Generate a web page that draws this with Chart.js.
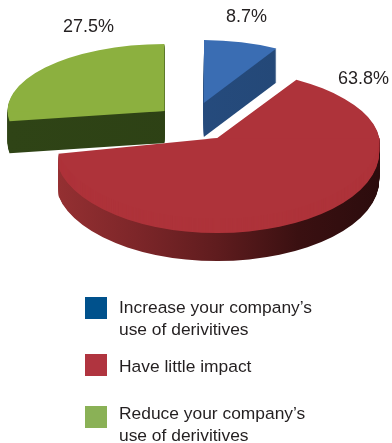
<!DOCTYPE html>
<html>
<head>
<meta charset="utf-8">
<script src="https://cdn.jsdelivr.net/npm/chart.js@4"></script>
<style>
  html, body { margin: 0; padding: 0; background: #fff; }
  #wrap { position: relative; width: 392px; height: 443px; overflow: hidden; }
  canvas { position: absolute; left: 0; top: 0; }
  .key { position: absolute; left: 85px; width: 22px; height: 22px; }
  .key-text {
    position: absolute; left: 119px; white-space: nowrap;
    font: 17.4px/22px "Liberation Sans", sans-serif; color: #231f20;
  }
</style>
</head>
<body>
<div id="wrap"><canvas id="chart-pie" width="392" height="443"></canvas></div>
<script>
const categories = ["Increase your company’s use of derivitives", "Have little impact", "Reduce your company’s use of derivitives"];
const legendLines = [["Increase your company’s", "use of derivitives"], ["Have little impact"], ["Reduce your company’s", "use of derivitives"]];
const shares = [8.7, 63.8, 27.5];
const shareLabels = ["8.7%", "63.8%", "27.5%"];

const faceColors = ["#3a6db3", "#ae333a", "#8cb03f"];
const legendColors = ["#00518c", "#b0343f", "#8ab156"];
const wallColors = [
    ["#274f86", "#234673"],
    ["#953032", "#7d2629", "#5f1c1e", "#3a1011", "#2c0c0d"],
    ["#2f4416", "#2c3f14"],
];

// pie geometry, in pixels
const OFFSET = 40;
const BASE_RADIUS = 122;
const CENTER = { x: 195, y: 122 };
const TILT = 0.48;
const depths = [34, 28, 32];
const faceRadii = [
    { x: 150, up: 63, down: 63, band: 0, lean: 0.048, nudgeX: -2, nudgeY: -1 },
    { x: 162, up: 70, down: 81, band: 14, lean: 0.18, nudgeX: 0, nudgeY: 0 },
    { x: 157, up: 67, down: 66, band: 0, lean: 0, nudgeX: 0, nudgeY: 1 },
];
const drawOrder = [1, 0, 2];
const labelSpots = [[226, 22], [338, 84], [63, 32]];
const legendTops = [297, 354, 406];
const legendTextTops = [296, 355, 402];

// same radius growth Chart.js applies to an offset arc
function drawnRadius(arc) {
    const fix = 1 - Math.sin(Math.min(Math.PI, arc.circumference));
    return arc.outerRadius + (OFFSET * fix);
}

function paintSlice(ctx, chart, arc, i, el, dy) {
    const mid = (arc.startAngle + arc.endAngle) / 2;
    const size = faceRadii[i];
    const off = { x: arc.x + Math.cos(mid) * OFFSET, y: arc.y + Math.sin(mid) * OFFSET };
    const sx = CENTER.x + Math.cos(mid) * OFFSET + size.nudgeX;
    const sy = Math.round(CENTER.y + Math.sin(mid) * OFFSET * TILT) + size.nudgeY + dy;
    const r = drawnRadius(arc);

    const half = (ry, lean, top, bottom, shift) => {
        ctx.save();
        ctx.beginPath();
        ctx.rect(0, top, chart.width, bottom - top);
        ctx.clip();
        ctx.translate(sx, sy + shift);
        ctx.transform(1, 0, lean, 1, 0, 0);
        ctx.scale(size.x / r, ry / r);
        ctx.translate(-off.x, -off.y);
        el.draw(ctx);
        ctx.restore();
    };

    // the near half of the disc is stretched more than the far half,
    // and the band keeps its sides upright where the two halves meet
    for (let b = size.band; b >= 0; b--) {
        half(size.down, 0, sy, chart.height, b);
    }
    half(size.up, size.lean, 0, sy + 0.5, 0);
}

const pie3d = {
    id: "pie3d",
    beforeDatasetDraw() {
        return false;
    },
    afterDatasetsDraw(chart) {
        const ctx = chart.ctx;
        const arcs = chart.getDatasetMeta(0).data;
        drawOrder.forEach((i) => {
            const arc = arcs[i];
            const r = drawnRadius(arc);
            const grad = ctx.createLinearGradient(arc.x - r, 0, arc.x + r, 0);
            wallColors[i].forEach((c, n) => grad.addColorStop(n / (wallColors[i].length - 1), c));
            const wall = Object.create(arc);
            wall.options = Object.assign({}, arc.options, { backgroundColor: grad });
            for (let d = depths[i]; d > 0; d--) {
                paintSlice(ctx, chart, arc, i, wall, d);
            }
            paintSlice(ctx, chart, arc, i, arc, 0);
        });

        ctx.fillStyle = "#231f20";
        ctx.font = '18px "Liberation Sans", sans-serif';
        shareLabels.forEach((t, i) => ctx.fillText(t, labelSpots[i][0], labelSpots[i][1]));
    },
};

new Chart(document.getElementById("chart-pie"), {
    type: "pie",
    data: {
        labels: categories,
        datasets: [{
            data: shares,
            backgroundColor: faceColors,
            borderWidth: 0,
            offset: OFFSET * 4,
            hoverOffset: OFFSET * 4,
            radius: BASE_RADIUS,
        }],
    },
    options: {
        responsive: false,
        animation: false,
        layout: { padding: { right: 2, bottom: 199 } },
        plugins: { legend: { display: false }, tooltip: { enabled: false } },
    },
    plugins: [pie3d],
});

const wrap = document.getElementById("wrap");
legendLines.forEach((lines, i) => {
    const key = document.createElement("div");
    key.className = "key";
    key.style.top = legendTops[i] + "px";
    key.style.background = legendColors[i];
    wrap.appendChild(key);

    const text = document.createElement("div");
    text.className = "key-text";
    text.style.top = legendTextTops[i] + "px";
    text.innerHTML = lines.join("<br>");
    wrap.appendChild(text);
});
</script>
</body>
</html>
